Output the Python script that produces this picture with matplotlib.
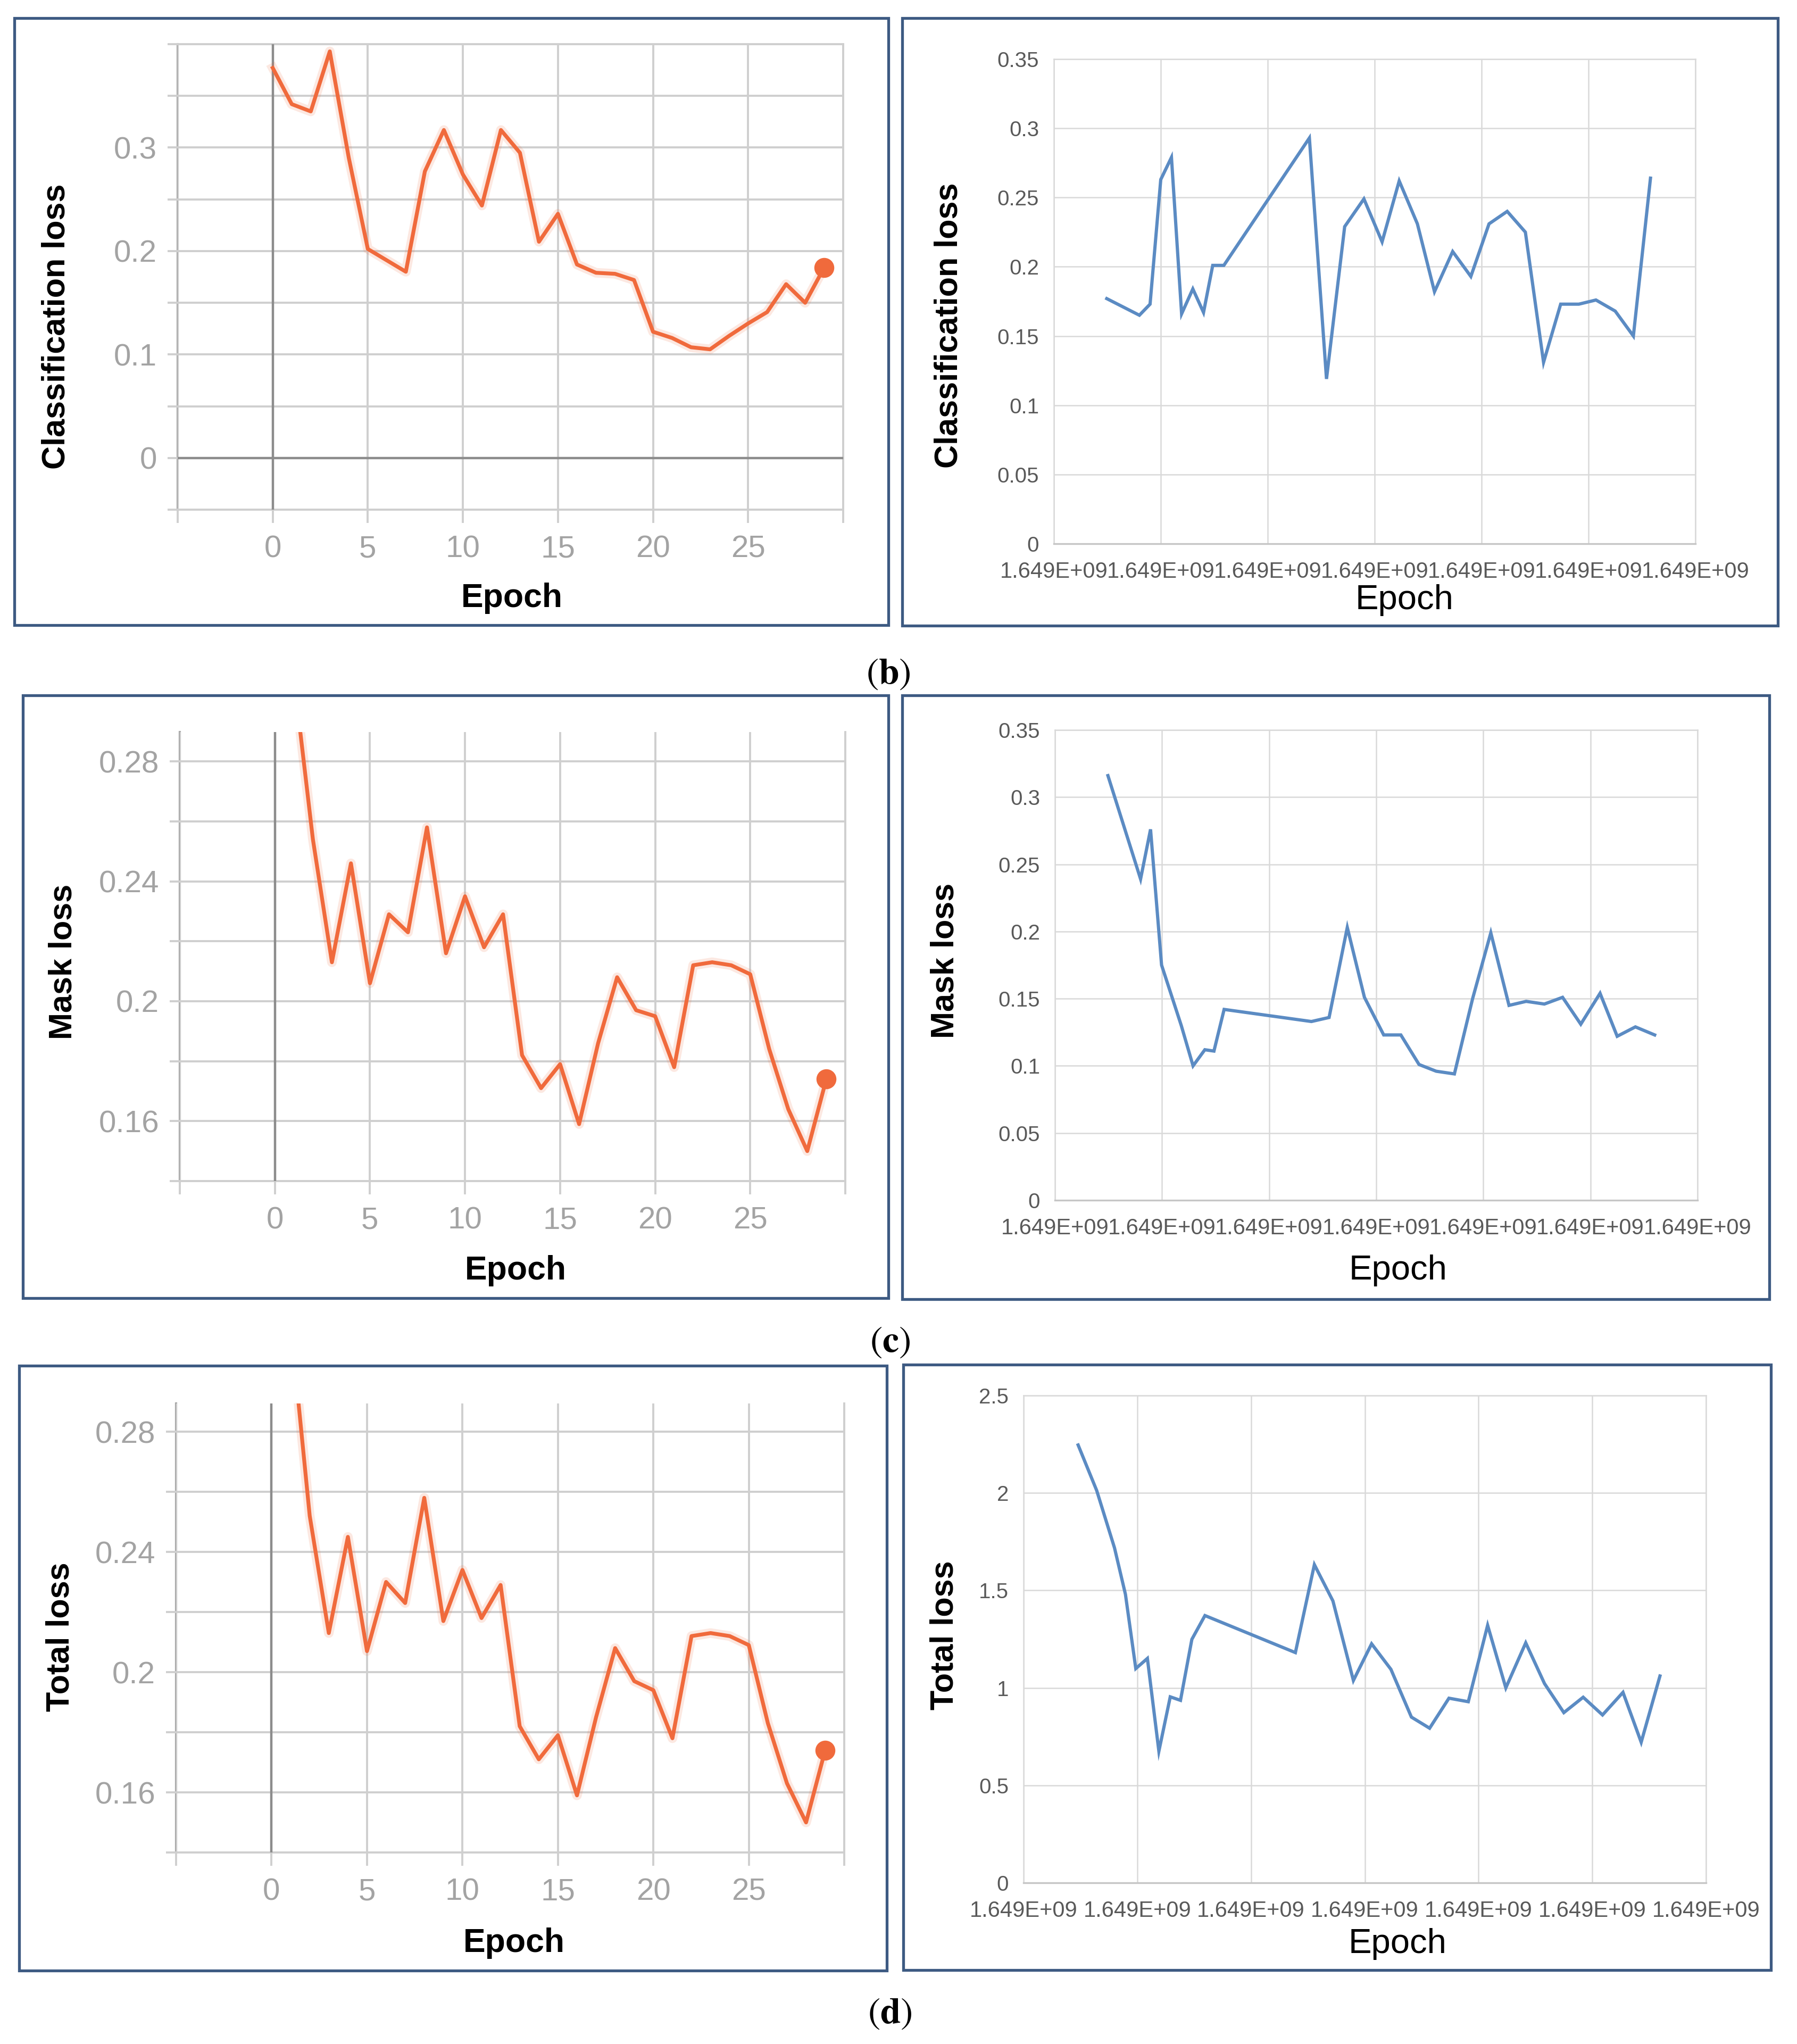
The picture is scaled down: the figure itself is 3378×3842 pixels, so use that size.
import numpy as np
import matplotlib
matplotlib.use("Agg")
import matplotlib.pyplot as plt
from matplotlib.patches import Rectangle

W, H = 3378, 3842
DPI = 100

plt.rcParams['font.family'] = ['Liberation Sans', 'DejaVu Sans']
plt.rcParams['mathtext.fontset'] = 'stix'

ORANGE = '#F06A3C'
BLUE = '#5B8BC3'
BOX = '#3D5A82'

# tensorboard curves (left column), one value per epoch
epochs = list(range(30))
cls_loss_tb = [0.377, 0.342, 0.335, 0.393, 0.290, 0.202, 0.191, 0.180, 0.277, 0.317,
               0.274, 0.244, 0.317, 0.295, 0.209, 0.236, 0.187, 0.179, 0.178, 0.172,
               0.122, 0.116, 0.107, 0.105, 0.118, 0.130, 0.141, 0.168, 0.150, 0.184]
mask_loss_tb = [0.370, 0.308, 0.254, 0.213, 0.246, 0.206, 0.229, 0.223, 0.258, 0.216,
                0.235, 0.218, 0.229, 0.182, 0.171, 0.179, 0.159, 0.186, 0.208, 0.197,
                0.195, 0.178, 0.212, 0.213, 0.212, 0.209, 0.184, 0.164, 0.150, 0.174]
total_loss_tb = [0.380, 0.316, 0.252, 0.213, 0.245, 0.207, 0.230, 0.223, 0.258, 0.217,
                 0.234, 0.218, 0.229, 0.182, 0.171, 0.179, 0.159, 0.185, 0.208, 0.197,
                 0.194, 0.178, 0.212, 0.213, 0.212, 0.209, 0.183, 0.163, 0.150, 0.174]

# excel curves (right column), x = position along the timestamp axis (gridline units)
cls_time = [0.495, 0.80, 0.90, 1.0, 1.10, 1.195, 1.30, 1.40, 1.486, 1.59, 2.39, 2.55, 2.72,
            2.90, 3.07, 3.23, 3.40, 3.56, 3.73, 3.90, 4.07, 4.24, 4.41, 4.58, 4.74, 4.91,
            5.07, 5.25, 5.42, 5.58]
cls_loss_xl = [0.177, 0.165, 0.173, 0.263, 0.279, 0.166, 0.184, 0.167, 0.201, 0.201, 0.293,
               0.119, 0.229, 0.249, 0.218, 0.262, 0.231, 0.182, 0.211, 0.193, 0.231, 0.240,
               0.225, 0.131, 0.173, 0.173, 0.176, 0.168, 0.150, 0.264]
mask_time = [0.495, 0.80, 0.893, 0.996, 1.18, 1.29, 1.40, 1.485, 1.58, 2.395, 2.56, 2.73,
             2.89, 3.07, 3.23, 3.40, 3.56, 3.73, 3.90, 4.07, 4.24, 4.40, 4.57, 4.74, 4.91,
             5.09, 5.25, 5.42, 5.60]
mask_loss_xl = [0.316, 0.239, 0.276, 0.175, 0.130, 0.100, 0.112, 0.111, 0.142, 0.133, 0.136,
                0.203, 0.151, 0.123, 0.123, 0.101, 0.096, 0.094, 0.150, 0.199, 0.145, 0.148,
                0.146, 0.151, 0.131, 0.154, 0.122, 0.129, 0.123]
total_time = [0.48, 0.643, 0.80, 0.896, 0.987, 1.089, 1.19, 1.29, 1.38, 1.48, 1.595, 2.39,
              2.557, 2.72, 2.90, 3.06, 3.23, 3.41, 3.57, 3.74, 3.91, 4.08, 4.24, 4.415, 4.58,
              4.75, 4.92, 5.09, 5.27, 5.43, 5.595]
total_loss_xl = [2.246, 2.013, 1.718, 1.48, 1.099, 1.151, 0.675, 0.954, 0.936, 1.249, 1.371,
                 1.181, 1.632, 1.446, 1.038, 1.226, 1.095, 0.85, 0.793, 0.947, 0.929, 1.321,
                 1.0, 1.231, 1.022, 0.873, 0.952, 0.861, 0.977, 0.721, 1.061]

# tick labels
tb_xticks = [-5, 0, 5, 10, 15, 20, 25, 30]
tb_xlabels = ['', '0', '5', '10', '15', '20', '25', '']
cls_tb_yticks = [-0.05, 0, 0.05, 0.1, 0.15, 0.2, 0.25, 0.3, 0.35, 0.4]
cls_tb_ylabels = ['', '0', '', '0.1', '', '0.2', '', '0.3', '', '']
loss_tb_yticks = [0.14, 0.16, 0.18, 0.2, 0.22, 0.24, 0.26, 0.28]
loss_tb_ylabels = ['', '0.16', '', '0.2', '', '0.24', '', '0.28']
xl_xticks = [0, 1, 2, 3, 4, 5, 6]
xl_xlabels = ['1.649E+09'] * 7
small_xl_yticks = [0, 0.05, 0.1, 0.15, 0.2, 0.25, 0.3, 0.35]
small_xl_ylabels = ['0', '0.05', '0.1', '0.15', '0.2', '0.25', '0.3', '0.35']
total_xl_yticks = [0, 0.5, 1, 1.5, 2, 2.5]
total_xl_ylabels = ['0', '0.5', '1', '1.5', '2', '2.5']

fig = plt.figure(figsize=(W / DPI, H / DPI), dpi=DPI)


def px_rect(l, t, r, b):
    return [l / W, 1 - b / H, (r - l) / W, (b - t) / H]


def ftext(x, y, s, **kw):
    fig.text(x / W, 1 - y / H, s, ha='center', va='center', **kw)


def box(l, t, r, b):
    fig.patches.append(Rectangle((l / W, 1 - b / H), (r - l) / W, (b - t) / H,
                                 transform=fig.transFigure, fill=False,
                                 edgecolor=BOX, lw=3.8))


def tb_panel(rect, y, ylim, yticks, ylabels, zero_h):
    ax = fig.add_axes(px_rect(*rect))
    ax.set_xlim(-5, 30)
    ax.set_ylim(*ylim)
    for s in ax.spines.values():
        s.set_visible(False)
    ax.set_xticks(tb_xticks)
    ax.set_xticklabels(tb_xlabels)
    ax.set_yticks(yticks)
    ax.set_yticklabels(ylabels)
    ax.set_axisbelow(True)
    ax.grid(True, color='#cfcfcf', lw=2.8)
    ax.tick_params(axis='x', length=18, width=2.8, color='#cfcfcf', pad=16,
                   labelsize=42, labelcolor='#a3a3a3')
    ax.tick_params(axis='y', length=14, width=2.8, color='#cfcfcf', pad=14,
                   labelsize=42, labelcolor='#a3a3a3')
    ax.axvline(-5, color='#a8a8a8', lw=3.0, clip_on=False, zorder=0.5)
    ax.axvline(30, color='#cfcfcf', lw=2.8, clip_on=False, zorder=0.5)
    ax.axhline(ylim[0], color='#cfcfcf', lw=2.8, clip_on=False, zorder=0.5)
    ax.axvline(0, color='#8c8c8c', lw=3.2, zorder=0.6)
    if zero_h:
        ax.axhline(0, color='#8c8c8c', lw=3.2, zorder=0.6)
        ax.axhline(ylim[1], color='#cfcfcf', lw=2.8, clip_on=False, zorder=0.5)
    ax.plot(epochs, y, color=ORANGE, lw=13, alpha=0.15, solid_joinstyle='round')
    ax.plot(epochs, y, color=ORANGE, lw=5.2, solid_joinstyle='round')
    ax.plot(epochs[-1], y[-1], 'o', ms=26, color=ORANGE, clip_on=False)
    return ax


def xl_panel(rect, x, y, ymax, yticks, ylabels):
    ax = fig.add_axes(px_rect(*rect))
    ax.set_xlim(0, 6)
    ax.set_ylim(0, ymax)
    for s in ax.spines.values():
        s.set_visible(False)
    ax.set_xticks(xl_xticks)
    ax.set_xticklabels(xl_xlabels)
    ax.set_yticks(yticks)
    ax.set_yticklabels(ylabels)
    ax.set_axisbelow(True)
    ax.grid(True, color='#d9d9d9', lw=1.8)
    ax.tick_params(length=0, labelcolor='#595959')
    ax.tick_params(axis='x', pad=24, labelsize=30)
    ax.tick_params(axis='y', pad=20, labelsize=29)
    ax.axvline(0, color='#d9d9d9', lw=1.8, clip_on=False, zorder=0.5)
    ax.axvline(6, color='#d9d9d9', lw=1.8, clip_on=False, zorder=0.5)
    ax.axhline(ymax, color='#d9d9d9', lw=1.8, clip_on=False, zorder=0.5)
    ax.axhline(0, color='#c6c6c6', lw=2.4, clip_on=False, zorder=0.6)
    ax.plot(x, y, color=BLUE, lw=4.4, solid_joinstyle='miter')
    return ax


# row (b): classification loss
box(27, 34, 1670, 1175)
box(1696, 34, 3342, 1176)
tb_panel((334, 83, 1585, 958), cls_loss_tb, (-0.05, 0.4), cls_tb_yticks, cls_tb_ylabels, True)
xl_panel((1981, 111, 3187, 1022), cls_time, cls_loss_xl, 0.35, small_xl_yticks, small_xl_ylabels)
ftext(106, 614, 'Classification loss', rotation=90, fontsize=44, fontweight='bold')
ftext(962, 1124, 'Epoch', fontsize=45, fontweight='bold')
ftext(1784, 612, 'Classification loss', rotation=90, fontsize=44, fontweight='bold')
ftext(2640, 1128, 'Epoch', fontsize=47)
ftext(1670, 1267, r'$(\mathbf{b})$', fontsize=50)

# row (c): mask loss
box(43, 1307, 1670, 2440)
box(1696, 1307, 3326, 2442)
tb_panel((338, 1376, 1589, 2220), mask_loss_tb, (0.14, 0.2898), loss_tb_yticks, loss_tb_ylabels, False)
xl_panel((1983, 1372, 3191, 2256), mask_time, mask_loss_xl, 0.35, small_xl_yticks, small_xl_ylabels)
ftext(119, 1808, 'Mask loss', rotation=90, fontsize=44, fontweight='bold')
ftext(969, 2388, 'Epoch', fontsize=45, fontweight='bold')
ftext(1777, 1806, 'Mask loss', rotation=90, fontsize=44, fontweight='bold')
ftext(2628, 2388, 'Epoch', fontsize=47)
ftext(1673, 2523, r'$(\mathbf{c})$', fontsize=50)

# row (d): total loss
box(36, 2567, 1667, 3704)
box(1698, 2565, 3329, 3703)
tb_panel((331, 2638, 1587, 3482), total_loss_tb, (0.14, 0.2894), loss_tb_yticks, loss_tb_ylabels, False)
xl_panel((1924, 2623, 3207, 3539), total_time, total_loss_xl, 2.5, total_xl_yticks, total_xl_ylabels)
ftext(114, 3077, 'Total loss', rotation=90, fontsize=44, fontweight='bold')
ftext(966, 3653, 'Epoch', fontsize=45, fontweight='bold')
ftext(1776, 3074, 'Total loss', rotation=90, fontsize=44, fontweight='bold')
ftext(2627, 3654, 'Epoch', fontsize=47)
ftext(1673, 3785, r'$(\mathbf{d})$', fontsize=50)

fig.savefig('out.png', dpi=DPI)
